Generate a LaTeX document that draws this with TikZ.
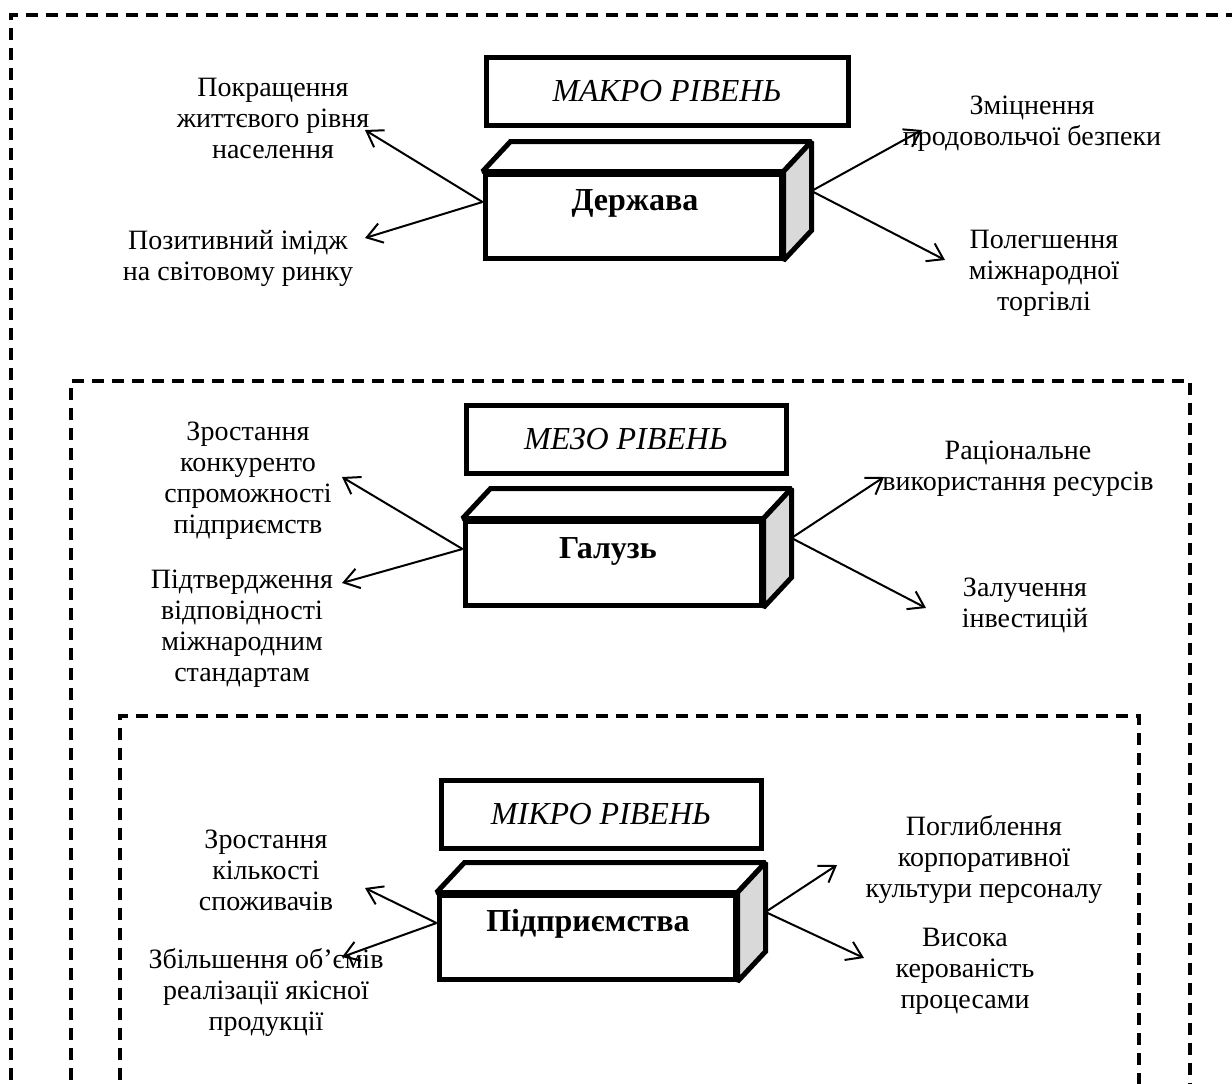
\documentclass[tikz,border=0pt]{standalone}
\usepackage{fontspec}
\setmainfont{Liberation Serif}
\usetikzlibrary{arrows.meta,calc}

\begin{document}
\begin{tikzpicture}[x=0.5pt,y=-0.5pt,>={Straight Barb[length=7.5pt,width=10pt]},
  frame/.style={line width=2pt,dash pattern=on 6pt off 4pt},
  levelbox/.style={draw,line width=2.5pt,fill=white,inner sep=0pt,font=\fontsize{16}{18}\selectfont\itshape},
  frontbox/.style={draw,line width=2.5pt,fill=white,inner sep=0pt,minimum width=148pt,minimum height=42pt},
  topface/.style={draw,line width=2.5pt,miter limit=2,fill=white},
  sideface/.style={draw,line width=2.5pt,miter limit=2,fill=gray!30},
  title/.style={font=\fontsize{16}{18}\selectfont\bfseries},
  goal/.style={align=center,font=\fontsize{14}{15.5}\selectfont,inner sep=0pt},
  link/.style={->,line width=1pt}]
  \clip (0,0) rectangle (1232,1083);
  \fill[white] (0,0) rectangle (1232,1083);

  % dashed frames (cut off by the page)
  \draw[frame] (11,1200) -- (11,15) -- (1300,15);
  \draw[frame] (71,1200) -- (71,381) -- (1190,381) -- (1190,1200);
  \draw[frame] (120,1200) -- (120,716) -- (1139,716) -- (1139,1200);

  % macro level
  \node[levelbox,minimum width=181pt,minimum height=34pt] (makro) at (667,91) {МАКРО РІВЕНЬ};
  \node[frontbox] (derzh) at (633,216) {};
  \draw[topface] (derzh.north west) -- ++(28,-30) -- ($(derzh.north east)+(28,-30)$) -- (derzh.north east) -- cycle;
  \draw[sideface] (derzh.north east) -- ++(28,-30) -- ($(derzh.south east)+(28,-30)$) -- (derzh.south east) -- cycle;
  \node[title] (derzht) at (635,203) {Держава};
  \node[goal] (g1) at (273,118) {Покращення\\життєвого рівня\\населення};
  \node[goal] (g2) at (238,258) {Позитивний імідж\\на світовому ринку};
  \node[goal] (g3) at (1032,124) {Зміцнення\\продовольчої безпеки};
  \node[goal] (g4) at (1044,273) {Полегшення\\міжнародної\\торгівлі};
  \coordinate (dl) at ([yshift=7pt]derzh.west);
  \coordinate (dr) at ($(derzh.east)+(28,-25)$);
  \coordinate (e1) at (365,130);
  \coordinate (e2) at (365,238);
  \coordinate (e3) at (922,130);
  \coordinate (e4) at (945,260);
  \draw[link] (dl) -- (e1);
  \draw[link] (dl) -- (e2);
  \draw[link] (dr) -- (e3);
  \draw[link] (dr) -- (e4);

  % meso level
  \node[levelbox,minimum width=160pt,minimum height=34pt] (mezo) at (626,439) {МЕЗО РІВЕНЬ};
  \node[frontbox] (haluz) at (613,563) {};
  \draw[topface] (haluz.north west) -- ++(28,-30) -- ($(haluz.north east)+(28,-30)$) -- (haluz.north east) -- cycle;
  \draw[sideface] (haluz.north east) -- ++(28,-30) -- ($(haluz.south east)+(28,-30)$) -- (haluz.south east) -- cycle;
  \node[title] (haluzt) at (608,551) {Галузь};
  \node[goal] (g5) at (248,481) {Зростання\\конкуренто\\спроможності\\підприємств};
  \node[goal] (g6) at (242,629) {Підтвердження\\відповідності\\міжнародним\\стандартам};
  \node[goal] (g7) at (1018,469) {Раціональне\\використання ресурсів};
  \node[goal] (g8) at (1025,605) {Залучення\\інвестицій};
  \coordinate (hl) at ([yshift=7pt]haluz.west);
  \coordinate (hr) at ($(haluz.east)+(28,-25)$);
  \coordinate (e5) at (342,477);
  \coordinate (e6) at (342,583);
  \coordinate (e7) at (884,477);
  \coordinate (e8) at (926,608);
  \draw[link] (hl) -- (e5);
  \draw[link] (hl) -- (e6);
  \draw[link] (hr) -- (e7);
  \draw[link] (hr) -- (e8);

  % micro level
  \node[levelbox,minimum width=160pt,minimum height=34pt] (mikro) at (601,814) {МІКРО РІВЕНЬ};
  \node[frontbox] (pidpr) at (587,937) {};
  \draw[topface] (pidpr.north west) -- ++(28,-30) -- ($(pidpr.north east)+(28,-30)$) -- (pidpr.north east) -- cycle;
  \draw[sideface] (pidpr.north east) -- ++(28,-30) -- ($(pidpr.south east)+(28,-30)$) -- (pidpr.south east) -- cycle;
  \node[title] (pidprt) at (588,924) {Підприємства};
  \node[goal] (g9) at (266,870) {Зростання\\кількості\\споживачів};
  \node[goal] (g10) at (266,992) {Збільшення об’ємів\\реалізації якісної\\продукції};
  \node[goal] (g11) at (984,859) {Поглиблення\\корпоративної\\культури персоналу};
  \node[goal] (g12) at (965,971) {Висока\\керованість\\процесами};
  \coordinate (pl) at ([yshift=7pt]pidpr.west);
  \coordinate (pr) at ($(pidpr.east)+(28,-25)$);
  \coordinate (e9) at (365,888);
  \coordinate (e10) at (342,957);
  \coordinate (e11) at (837,865);
  \coordinate (e12) at (864,958);
  \draw[link] (pl) -- (e9);
  \draw[link] (pl) -- (e10);
  \draw[link] (pr) -- (e11);
  \draw[link] (pr) -- (e12);
\end{tikzpicture}
\end{document}
